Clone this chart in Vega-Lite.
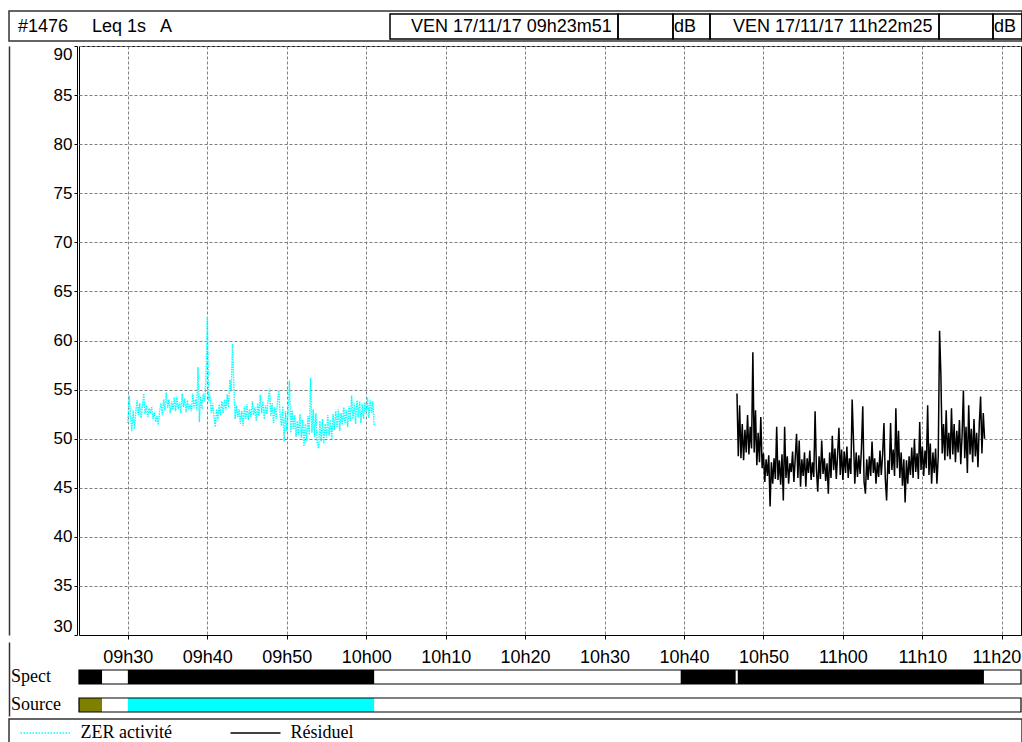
{
"$schema": "https://vega.github.io/schema/vega-lite/v6.json",
"padding": {"left": 8, "top": 10, "right": 0, "bottom": 0},
"background": "#ffffff",
"spacing": 2,
"config": {
  "view": {"stroke": null},
  "axis": {"labelFont": "Liberation Sans", "labelColor": "#000000", "tickColor": "#000000", "domainColor": "#000000", "gridColor": "#808080", "gridDash": [3, 2], "gridOpacity": 1, "gridWidth": 1}
},
"resolve": {"scale": {"x": "independent", "y": "independent", "color": "independent"}},
"vconcat": [
{
  "width": 942, "height": 30,
  "layer": [
    {"data": {"values": [{"a": -70, "b": 943}]},
     "mark": {"type": "rect", "fill": "#ffffff", "stroke": "#333333", "strokeWidth": 1.5},
     "encoding": {"x": {"field": "a", "type": "quantitative", "scale": {"domain": [0, 942], "nice": false, "zero": false}, "axis": null}, "x2": {"field": "b"}}},
    {"data": {"values": [{"a": 311, "b": 539, "row": "h"}, {"a": 539, "b": 594, "row": "h"}, {"a": 594, "b": 631, "row": "h"}, {"a": 631, "b": 860, "row": "h"}, {"a": 860, "b": 914, "row": "h"}, {"a": 914, "b": 943, "row": "h"}]},
     "mark": {"type": "rect", "fill": "transparent", "stroke": "#000000", "strokeWidth": 1.5},
     "encoding": {"x": {"field": "a", "type": "quantitative", "axis": null}, "x2": {"field": "b"}, "y": {"field": "row", "type": "nominal", "scale": {"paddingInner": 0, "paddingOuter": 0.1, "align": 0.6}, "axis": null}}},
    {"data": {"values": [{"x": -61, "label": "#1476", "row": "h"}, {"x": 13, "label": "Leq 1s", "row": "h"}, {"x": 81, "label": "A", "row": "h"}, {"x": 332, "label": "VEN 17/11/17 09h23m51", "row": "h"}, {"x": 595, "label": "dB", "row": "h"}, {"x": 654, "label": "VEN 17/11/17 11h22m25", "row": "h"}, {"x": 915, "label": "dB", "row": "h"}]},
     "mark": {"type": "text", "align": "left", "baseline": "middle", "font": "Liberation Sans", "fontSize": 18, "color": "#000000"},
     "encoding": {"x": {"field": "x", "type": "quantitative", "axis": null}, "y": {"field": "row", "type": "nominal", "axis": null}, "text": {"field": "label"}}}
  ]
},
{
  "width": 942, "height": 589,
  "view": {"stroke": "#000000", "strokeWidth": 1},
  "layer": [
    {"data": {"values": [
{"s":34200,"v":51.6},{"s":34210,"v":54.4},{"s":34220,"v":52.3},{"s":34230,"v":50.8},{"s":34240,"v":52.9},{"s":34250,"v":51.0},
{"s":34260,"v":52.8},{"s":34270,"v":53.9},{"s":34280,"v":52.4},{"s":34290,"v":53.6},{"s":34300,"v":52.1},{"s":34310,"v":53.3},
{"s":34320,"v":54.6},{"s":34330,"v":52.5},{"s":34340,"v":53.4},{"s":34350,"v":52.2},{"s":34360,"v":53.1},{"s":34370,"v":52.6},
{"s":34380,"v":53.2},{"s":34390,"v":52.0},{"s":34400,"v":52.7},{"s":34410,"v":51.7},{"s":34420,"v":52.3},{"s":34430,"v":51.4},
{"s":34440,"v":52.8},{"s":34450,"v":53.6},{"s":34460,"v":52.4},{"s":34470,"v":54.0},{"s":34480,"v":52.9},{"s":34490,"v":54.7},
{"s":34500,"v":53.1},{"s":34510,"v":54.0},{"s":34520,"v":52.6},{"s":34530,"v":53.8},{"s":34540,"v":52.9},{"s":34550,"v":54.2},
{"s":34560,"v":52.8},{"s":34570,"v":54.3},{"s":34580,"v":53.0},{"s":34590,"v":53.7},{"s":34600,"v":52.6},{"s":34610,"v":54.6},
{"s":34620,"v":53.2},{"s":34630,"v":54.1},{"s":34640,"v":52.7},{"s":34650,"v":53.9},{"s":34660,"v":53.0},{"s":34670,"v":53.5},
{"s":34680,"v":52.8},{"s":34690,"v":54.6},{"s":34700,"v":53.1},{"s":34710,"v":54.0},{"s":34720,"v":52.9},{"s":34730,"v":57.3},
{"s":34740,"v":51.7},{"s":34750,"v":54.3},{"s":34760,"v":53.0},{"s":34770,"v":54.6},{"s":34780,"v":53.8},{"s":34790,"v":56.0},
{"s":34800,"v":62.4},{"s":34810,"v":54.0},{"s":34820,"v":54.2},{"s":34830,"v":52.6},{"s":34840,"v":53.6},{"s":34850,"v":52.3},
{"s":34860,"v":51.2},{"s":34870,"v":53.0},{"s":34880,"v":52.0},{"s":34890,"v":53.5},{"s":34900,"v":52.4},{"s":34910,"v":53.8},
{"s":34920,"v":52.6},{"s":34930,"v":54.0},{"s":34940,"v":52.9},{"s":34950,"v":54.5},{"s":34960,"v":53.2},{"s":34970,"v":56.0},
{"s":34980,"v":54.8},{"s":34990,"v":59.7},{"s":35000,"v":55.5},{"s":35010,"v":52.0},{"s":35020,"v":53.4},{"s":35030,"v":52.2},
{"s":35040,"v":53.0},{"s":35050,"v":51.5},{"s":35060,"v":52.8},{"s":35070,"v":51.3},{"s":35080,"v":53.3},{"s":35090,"v":52.0},
{"s":35100,"v":53.5},{"s":35110,"v":51.9},{"s":35120,"v":53.0},{"s":35130,"v":52.2},{"s":35140,"v":53.8},{"s":35150,"v":52.4},
{"s":35160,"v":53.2},{"s":35170,"v":51.8},{"s":35180,"v":53.6},{"s":35190,"v":52.3},{"s":35200,"v":54.5},{"s":35210,"v":52.6},
{"s":35220,"v":53.8},{"s":35230,"v":52.0},{"s":35240,"v":53.4},{"s":35250,"v":52.5},{"s":35260,"v":54.0},{"s":35270,"v":55.1},
{"s":35280,"v":52.3},{"s":35290,"v":53.6},{"s":35300,"v":51.6},{"s":35310,"v":53.2},{"s":35320,"v":52.0},{"s":35330,"v":53.8},
{"s":35340,"v":54.9},{"s":35350,"v":52.4},{"s":35360,"v":51.3},{"s":35370,"v":53.3},{"s":35380,"v":49.7},{"s":35390,"v":52.8},
{"s":35400,"v":50.8},{"s":35410,"v":52.6},{"s":35420,"v":55.9},{"s":35430,"v":50.6},{"s":35440,"v":52.9},{"s":35450,"v":51.0},
{"s":35460,"v":52.4},{"s":35470,"v":50.2},{"s":35480,"v":51.8},{"s":35490,"v":50.4},{"s":35500,"v":52.5},{"s":35510,"v":50.1},
{"s":35520,"v":51.9},{"s":35530,"v":49.2},{"s":35540,"v":51.5},{"s":35550,"v":49.8},{"s":35560,"v":52.3},{"s":35570,"v":50.4},
{"s":35580,"v":56.2},{"s":35590,"v":50.6},{"s":35600,"v":53.0},{"s":35610,"v":50.2},{"s":35620,"v":52.6},{"s":35630,"v":49.6},
{"s":35640,"v":49.0},{"s":35650,"v":51.8},{"s":35660,"v":49.7},{"s":35670,"v":52.0},{"s":35680,"v":49.5},{"s":35690,"v":51.5},
{"s":35700,"v":50.1},{"s":35710,"v":52.4},{"s":35720,"v":50.3},{"s":35730,"v":51.9},{"s":35740,"v":50.0},{"s":35750,"v":52.5},
{"s":35760,"v":50.9},{"s":35770,"v":52.8},{"s":35780,"v":51.2},{"s":35790,"v":53.0},{"s":35800,"v":50.8},{"s":35810,"v":52.6},
{"s":35820,"v":51.4},{"s":35830,"v":53.2},{"s":35840,"v":51.6},{"s":35850,"v":52.9},{"s":35860,"v":51.2},{"s":35870,"v":53.3},
{"s":35880,"v":51.8},{"s":35890,"v":54.4},{"s":35900,"v":52.0},{"s":35910,"v":53.6},{"s":35920,"v":51.5},{"s":35930,"v":53.9},
{"s":35940,"v":52.2},{"s":35950,"v":53.8},{"s":35960,"v":51.6},{"s":35970,"v":53.5},{"s":35980,"v":52.0},{"s":35990,"v":53.7},
{"s":36000,"v":52.4},{"s":36010,"v":54.2},{"s":36020,"v":52.1},{"s":36030,"v":53.9},{"s":36040,"v":52.6},{"s":36050,"v":53.8},
{"s":36060,"v":51.4}
    ]},
     "mark": {"type": "line", "color": "#00ffff", "strokeWidth": 1.4, "strokeDash": [1.5, 1]},
     "encoding": {
       "x": {"field": "s", "type": "quantitative",
             "scale": {"domain": [33831, 40945], "nice": false, "zero": false},
             "axis": {"values": [34200, 34800, 35400, 36000, 36600, 37200, 37800, 38400, 39000, 39600, 40200, 40800], "labels": false, "ticks": true, "tickSize": 4, "domain": true, "grid": true, "minExtent": 4, "maxExtent": 4, "title": null}},
       "y": {"field": "v", "type": "quantitative",
             "scale": {"domain": [30, 90], "nice": false, "zero": false},
             "axis": {"values": [30, 35, 40, 45, 50, 55, 60, 65, 70, 75, 80, 85, 90], "labelFlush": true, "grid": true, "tickSize": 3, "offset": 2, "labelPadding": 2, "labelFontSize": 17, "minExtent": 0, "title": null}}
     }},
    {"data": {"values": [
{"s":38800,"v":54.6},{"s":38810,"v":48.2},
{"s":38820,"v":53.4},{"s":38830,"v":48.0},{"s":38840,"v":51.5},{"s":38850,"v":47.8},{"s":38860,"v":50.9},{"s":38870,"v":48.6},
{"s":38880,"v":52.4},{"s":38890,"v":48.4},{"s":38900,"v":51.2},{"s":38910,"v":49.0},{"s":38920,"v":58.8},{"s":38930,"v":48.6},
{"s":38940,"v":52.9},{"s":38950,"v":47.3},{"s":38960,"v":50.6},{"s":38970,"v":47.6},{"s":38980,"v":52.2},{"s":38990,"v":47.0},
{"s":39000,"v":48.5},{"s":39010,"v":45.6},{"s":39020,"v":47.9},{"s":39030,"v":46.2},{"s":39040,"v":48.3},{"s":39050,"v":43.1},
{"s":39060,"v":47.6},{"s":39070,"v":45.4},{"s":39080,"v":48.0},{"s":39090,"v":45.9},{"s":39100,"v":51.2},{"s":39110,"v":45.8},
{"s":39120,"v":47.8},{"s":39130,"v":45.3},{"s":39140,"v":48.4},{"s":39150,"v":43.7},{"s":39160,"v":51.2},{"s":39170,"v":46.0},
{"s":39180,"v":48.2},{"s":39190,"v":45.4},{"s":39200,"v":47.5},{"s":39210,"v":46.6},{"s":39220,"v":48.7},{"s":39230,"v":45.6},
{"s":39240,"v":48.0},{"s":39250,"v":50.5},{"s":39260,"v":46.0},{"s":39270,"v":49.8},{"s":39280,"v":45.1},{"s":39290,"v":47.9},
{"s":39300,"v":46.2},{"s":39310,"v":48.6},{"s":39320,"v":45.1},{"s":39330,"v":48.0},{"s":39340,"v":46.5},{"s":39350,"v":48.8},
{"s":39360,"v":45.8},{"s":39370,"v":47.6},{"s":39380,"v":46.1},{"s":39390,"v":52.8},{"s":39400,"v":46.9},{"s":39410,"v":44.6},
{"s":39420,"v":48.2},{"s":39430,"v":45.9},{"s":39440,"v":49.8},{"s":39450,"v":46.4},{"s":39460,"v":48.0},{"s":39470,"v":45.7},
{"s":39480,"v":47.5},{"s":39490,"v":44.4},{"s":39500,"v":48.6},{"s":39510,"v":46.0},{"s":39520,"v":50.3},{"s":39530,"v":46.8},
{"s":39540,"v":49.0},{"s":39550,"v":45.9},{"s":39560,"v":48.4},{"s":39570,"v":51.1},{"s":39580,"v":46.3},{"s":39590,"v":48.9},
{"s":39600,"v":45.8},{"s":39610,"v":48.7},{"s":39620,"v":46.5},{"s":39630,"v":49.2},{"s":39640,"v":46.0},{"s":39650,"v":48.0},
{"s":39660,"v":46.4},{"s":39670,"v":54.0},{"s":39680,"v":49.8},{"s":39690,"v":45.4},{"s":39700,"v":48.6},{"s":39710,"v":46.1},
{"s":39720,"v":48.3},{"s":39730,"v":46.4},{"s":39740,"v":49.0},{"s":39750,"v":53.3},{"s":39760,"v":45.6},{"s":39770,"v":44.4},
{"s":39780,"v":47.9},{"s":39790,"v":45.8},{"s":39800,"v":48.2},{"s":39810,"v":46.2},{"s":39820,"v":49.7},{"s":39830,"v":46.5},
{"s":39840,"v":48.0},{"s":39850,"v":45.4},{"s":39860,"v":47.6},{"s":39870,"v":46.1},{"s":39880,"v":48.8},{"s":39890,"v":46.3},
{"s":39900,"v":48.4},{"s":39910,"v":51.6},{"s":39920,"v":46.0},{"s":39930,"v":43.7},{"s":39940,"v":47.8},{"s":39950,"v":46.4},
{"s":39960,"v":51.6},{"s":39970,"v":46.8},{"s":39980,"v":48.9},{"s":39990,"v":46.2},{"s":40000,"v":53.1},{"s":40010,"v":47.0},
{"s":40020,"v":50.8},{"s":40030,"v":46.0},{"s":40040,"v":48.6},{"s":40050,"v":45.2},{"s":40060,"v":47.9},{"s":40070,"v":43.5},
{"s":40080,"v":47.8},{"s":40090,"v":45.4},{"s":40100,"v":48.2},{"s":40110,"v":46.3},{"s":40120,"v":49.1},{"s":40130,"v":46.0},
{"s":40140,"v":50.0},{"s":40150,"v":46.6},{"s":40160,"v":48.5},{"s":40170,"v":45.9},{"s":40180,"v":51.7},{"s":40190,"v":46.8},
{"s":40200,"v":49.2},{"s":40210,"v":46.2},{"s":40220,"v":48.8},{"s":40230,"v":47.0},{"s":40240,"v":53.4},{"s":40250,"v":46.3},
{"s":40260,"v":49.5},{"s":40270,"v":45.4},{"s":40280,"v":48.6},{"s":40290,"v":46.5},{"s":40300,"v":49.0},{"s":40310,"v":45.4},
{"s":40320,"v":48.2},{"s":40330,"v":61.0},{"s":40340,"v":56.5},{"s":40350,"v":48.5},{"s":40360,"v":51.5},{"s":40370,"v":47.8},
{"s":40380,"v":52.9},{"s":40390,"v":48.2},{"s":40400,"v":50.6},{"s":40410,"v":47.9},{"s":40420,"v":53.1},{"s":40430,"v":48.4},
{"s":40440,"v":51.5},{"s":40450,"v":47.6},{"s":40460,"v":50.8},{"s":40470,"v":48.6},{"s":40480,"v":51.9},{"s":40490,"v":47.4},
{"s":40500,"v":50.3},{"s":40510,"v":54.9},{"s":40520,"v":48.0},{"s":40530,"v":51.2},{"s":40540,"v":46.5},{"s":40550,"v":53.4},
{"s":40560,"v":48.4},{"s":40570,"v":51.0},{"s":40580,"v":47.6},{"s":40590,"v":52.0},{"s":40600,"v":48.2},{"s":40610,"v":50.6},
{"s":40620,"v":47.1},{"s":40630,"v":51.5},{"s":40640,"v":54.3},{"s":40650,"v":48.5},{"s":40660,"v":52.6},{"s":40670,"v":50.0}
    ]},
     "mark": {"type": "line", "color": "#000000", "strokeWidth": 1.5},
     "encoding": {
       "x": {"field": "s", "type": "quantitative"},
       "y": {"field": "v", "type": "quantitative", "axis": null}
     }},
    {"data": {"values": [{"v": 30}]},
     "mark": {"type": "rule", "opacity": 0},
     "encoding": {"y": {"field": "v", "type": "quantitative", "axis": {"orient": "left", "offset": 70, "labels": false, "ticks": false, "grid": false, "domain": true, "domainColor": "#333333", "domainWidth": 1.5, "minExtent": 0, "maxExtent": 0, "title": null}}}}
  ],
  "resolve": {"axis": {"y": "independent"}}
},
{
  "width": 942, "height": 74,
  "layer": [
    {"data": {"values": [
      {"band": "Spect", "start": 33831, "end": 34005, "cat": "Spect"},
      {"band": "Spect", "start": 34200, "end": 36060, "cat": "Spect"},
      {"band": "Spect", "start": 38375, "end": 38790, "cat": "Spect"},
      {"band": "Spect", "start": 38806, "end": 40665, "cat": "Spect"},
      {"band": "Source", "start": 33831, "end": 34005, "cat": "Autre"},
      {"band": "Source", "start": 34200, "end": 36060, "cat": "ZER activité"}
    ]},
     "mark": {"type": "rect"},
     "encoding": {
       "x": {"field": "start", "type": "quantitative",
             "scale": {"domain": [33831, 40945], "nice": false, "zero": false},
             "axis": {"orient": "top", "offset": -15, "values": [34200, 34800, 35400, 36000, 36600, 37200, 37800, 38400, 39000, 39600, 40200, 40800], "labelExpr": "(floor(datum.value/3600) < 10 ? '0' : '') + floor(datum.value/3600) + 'h' + (floor((datum.value % 3600)/60) < 10 ? '0' : '') + floor((datum.value % 3600)/60)", "labels": true, "ticks": false, "domain": false, "grid": false, "labelBaseline": "middle", "labelPadding": 0, "labelFontSize": 18, "labelOverlap": false, "labelFlush": 25, "labelFlushOffset": 19, "minExtent": 0, "title": null}},
       "x2": {"field": "end"},
       "y": {"field": "band", "type": "nominal",
             "scale": {"domain": ["Spect", "Source"], "paddingInner": 0.5, "paddingOuter": 0.571, "align": 0.875},
             "axis": {"orient": "left", "labelAlign": "left", "labelPadding": 68.5, "ticks": false, "domain": false, "grid": false, "labelFont": "Liberation Serif", "labelFontSize": 18, "minExtent": 0, "title": null}},
       "color": {"field": "cat", "type": "nominal", "scale": {"domain": ["Spect", "Autre", "ZER activité"], "range": ["#000000", "#808000", "#00ffff"]}, "legend": null}
     }},
    {"data": {"values": [
      {"band": "Spect", "start": 33831, "end": 40945},
      {"band": "Source", "start": 33831, "end": 40945}
    ]},
     "mark": {"type": "rect", "fill": "transparent", "stroke": "#000000", "strokeWidth": 1.2},
     "encoding": {
       "x": {"field": "start", "type": "quantitative"},
       "x2": {"field": "end"},
       "y": {"field": "band", "type": "nominal", "axis": {"orient": "left", "offset": 70, "labels": false, "ticks": false, "grid": false, "domain": true, "domainColor": "#333333", "domainWidth": 1.5, "minExtent": 0, "maxExtent": 0, "title": null}}
     }}
  ],
  "resolve": {"axis": {"y": "independent"}}
},
{
  "width": 942, "height": 28,
  "layer": [
    {"data": {"values": [{"a": -70, "b": 943}]},
     "mark": {"type": "rect", "fill": "transparent", "stroke": "#333333", "strokeWidth": 1.5},
     "encoding": {"x": {"field": "a", "type": "quantitative", "scale": {"domain": [0, 942], "nice": false, "zero": false}, "axis": null}, "x2": {"field": "b"}}},
    {"data": {"values": [{"a": -58.5, "b": -8.5, "series": "ZER activité"}]},
     "mark": {"type": "rule", "color": "#00ffff", "strokeWidth": 1.4, "strokeDash": [1.5, 1.5]},
     "encoding": {"x": {"field": "a", "type": "quantitative"}, "x2": {"field": "b"}}},
    {"data": {"values": [{"a": 151.5, "b": 201.5, "series": "Résiduel"}]},
     "mark": {"type": "rule", "color": "#000000", "strokeWidth": 1.3},
     "encoding": {"x": {"field": "a", "type": "quantitative"}, "x2": {"field": "b"}}},
    {"data": {"values": [{"x": 1.5, "label": "ZER activité"}, {"x": 211.5, "label": "Résiduel"}]},
     "mark": {"type": "text", "align": "left", "baseline": "middle", "font": "Liberation Serif", "fontSize": 18, "color": "#000000"},
     "encoding": {"x": {"field": "x", "type": "quantitative"}, "text": {"field": "label"}}}
  ]
}
]
}
